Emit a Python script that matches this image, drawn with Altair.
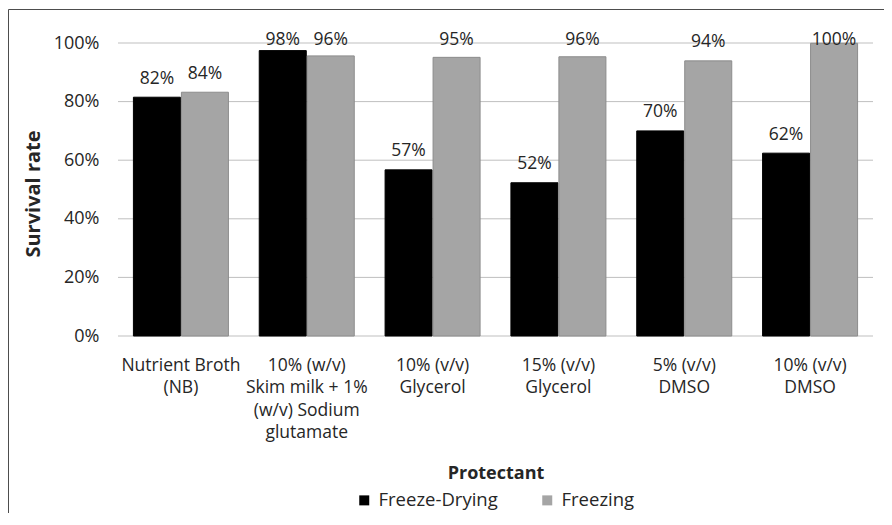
import altair as alt
import pandas as pd

# ---- data ----
categories = [
    "Nutrient Broth\n(NB)",
    "10% (w/v)\nSkim milk + 1%\n(w/v) Sodium\nglutamate",
    "10% (v/v)\nGlycerol",
    "15% (v/v)\nGlycerol",
    "5% (v/v)\nDMSO",
    "10% (v/v)\nDMSO",
]
series = ["Freeze-Drying", "Freezing"]
freeze_drying = [0.815, 0.974, 0.567, 0.523, 0.700, 0.624]
freezing = [0.832, 0.956, 0.951, 0.953, 0.939, 0.999]
freeze_drying_labels = ["82%", "98%", "57%", "52%", "70%", "62%"]
freezing_labels = ["84%", "96%", "95%", "96%", "94%", "100%"]
y_ticks = [0, 0.2, 0.4, 0.6, 0.8, 1.0]

rows = []
for i, c in enumerate(categories):
    rows.append({"protectant": c, "method": series[0], "rate": freeze_drying[i],
                 "label": freeze_drying_labels[i]})
    rows.append({"protectant": c, "method": series[1], "rate": freezing[i],
                 "label": freezing_labels[i]})
df = pd.DataFrame(rows)
grid_df = pd.DataFrame({"tick": y_ticks})

FONT = "Open Sans"
TXT = "#262626"

x = alt.X(
    "protectant:N",
    sort=categories,
    scale=alt.Scale(paddingInner=0.245, paddingOuter=0.1225),
    axis=alt.Axis(
        title="Protectant",
        labelExpr="split(datum.label, '\\n')",
        labelAngle=0,
        labelFont=FONT,
        labelFontSize=17.5,
        labelLineHeight=22.5,
        labelPadding=20,
        labelBaseline="top",
        labelColor=TXT,
        ticks=False,
        tickSize=0,
        domain=False,
        grid=False,
        titleFont=FONT,
        titleFontSize=18,
        titleFontWeight="bold",
        titleColor=TXT,
        titleY=142,
        titleBaseline="alphabetic",
    ),
)

x_off = alt.XOffset("method:N", sort=series, scale=alt.Scale(paddingInner=0.02))

y_scale = alt.Scale(domain=[0, 1], nice=False, zero=True)

y_axis = alt.Axis(
    values=y_ticks,
    format=".0%",
    title="Survival rate",
    grid=False,
    domain=False,
    ticks=False,
    tickSize=0,
    labelPadding=19,
    labelFont=FONT,
    labelFontSize=18,
    labelColor=TXT,
    titleFont=FONT,
    titleFontSize=20,
    titleFontWeight="bold",
    titleColor=TXT,
    titleX=-85,
    titleY=150.5,
    titleAngle=270,
    titleAlign="center",
    titleBaseline="middle",
)

gridlines = alt.Chart(grid_df).mark_rule(color="#bfbfbf", strokeWidth=1).encode(
    y=alt.Y("tick:Q", scale=y_scale, axis=y_axis)
)

bars = alt.Chart(df).mark_bar(strokeWidth=1).encode(
    x=x,
    xOffset=x_off,
    y=alt.Y("rate:Q", scale=y_scale, axis=y_axis),
    fill=alt.Fill(
        "method:N",
        scale=alt.Scale(domain=series, range=["#000000", "#a5a5a5"]),
        legend=alt.Legend(
            orient="none",
            legendX=237,
            legendY=448,
            direction="horizontal",
            title=None,
            symbolType="square",
            symbolSize=100,
            symbolStrokeWidth=0,
            labelFont=FONT,
            labelFontSize=18.5,
            labelColor=TXT,
            labelOffset=5,
            columnPadding=40,
        ),
    ),
    stroke=alt.Stroke(
        "method:N",
        scale=alt.Scale(domain=series, range=["#000000", "#8c8c8c"]),
        legend=None,
    ),
)

labels = alt.Chart(df).transform_calculate(
    ly="min(datum.rate, 0.948)"
).mark_text(
    dy=-13.5, baseline="alphabetic", align="center", font=FONT, fontSize=17.5, color=TXT
).encode(
    x=x,
    xOffset=x_off,
    y=alt.Y("ly:Q", scale=y_scale, axis=y_axis),
    text="label:N",
)

frame = alt.Chart(alt.Data(values=[{}])).mark_rect(
    filled=False, stroke="#4d4d4d", strokeWidth=1
).encode(
    x=alt.value(-109.5), x2=alt.value(900), y=alt.value(-33.5), y2=alt.value(700)
)

chart = alt.layer(gridlines, bars, labels, frame).properties(
    width=755,
    height=293,
    autosize=alt.AutoSizeParams(type="none"),
    padding={"left": 110, "top": 35, "right": 11, "bottom": 177},
    background="white",
).configure(font=FONT, view=alt.ViewConfig(stroke=None))

chart.save("out.html", embed_options={"renderer": "svg", "actions": False})
